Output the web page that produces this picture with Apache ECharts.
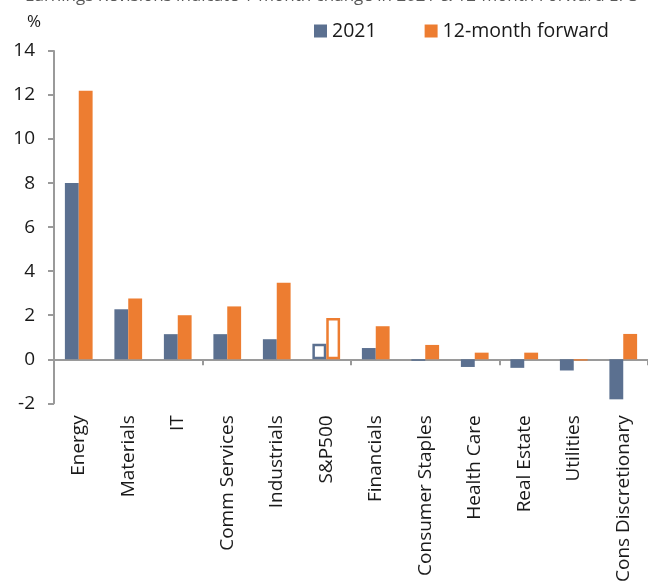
<!DOCTYPE html>
<html>
<head>
<meta charset="utf-8">
<script src="https://cdn.jsdelivr.net/npm/echarts@6/dist/echarts.min.js"></script>
<style>
  html, body { margin: 0; padding: 0; background: #fff; }
  #chart { width: 648px; height: 585px; }
</style>
</head>
<body>
<div id="chart"></div>
<script>
// Sector EPS revisions, 1-month change (%)
const sectors = ['Energy', 'Materials', 'IT', 'Comm Services', 'Industrials', 'S&P500',
  'Financials', 'Consumer Staples', 'Health Care', 'Real Estate', 'Utilities', 'Cons Discretionary'];
const rev2021 = [8.0, 2.27, 1.14, 1.14, 0.91, 0.7, 0.51, -0.07, -0.35, -0.39, -0.51, -1.82];
const revFwd12m = [12.2, 2.76, 2.0, 2.4, 3.48, 1.87, 1.5, 0.65, 0.3, 0.3, -0.06, 1.15];
const yTicks = { min: -2, max: 14, step: 2 };
const highlightIndex = sectors.indexOf('S&P500');

const BLUE = '#5b7090';
const ORANGE = '#ed7d31';
const FONT = 'Open Sans';
const TXT = '#1a1a1a';
const AXIS = '#9a9a9a';

// The S&P500 pair is drawn hollow so the aggregate stands apart from sectors
function seriesData(values, color) {
  return values.map((v, i) => i === highlightIndex
    ? { value: v, itemStyle: { color: '#ffffff', borderColor: color, borderWidth: 2.5 } }
    : v);
}

const chart = echarts.init(document.getElementById('chart'), null, { renderer: 'canvas' });
chart.setOption({
  animation: false,
  textStyle: { fontFamily: FONT },
  graphic: [
    { type: 'text', left: 25, top: -12,
      style: { text: 'Earnings Revisions indicate 1-month change in 2021 & 12-month Forward EPS',
               font: '17px "Open Sans"', fill: '#595959' } },
    { type: 'text', left: 27, top: 14,
      style: { text: '%', font: '17px "Open Sans"', fill: TXT } }
  ],
  legend: {
    left: 309, top: 16,
    itemWidth: 13, itemHeight: 13, itemGap: 48,
    icon: 'rect',
    textStyle: { fontFamily: FONT, fontSize: 19.5, color: TXT },
    data: ['2021', '12-month forward']
  },
  grid: { left: 54, top: 51, width: 596, height: 356, containLabel: false },
  xAxis: [
    {
      // labels sit below the plot area
      type: 'category', data: sectors, position: 'bottom',
      axisLine: { show: false, onZero: false }, axisTick: { show: false },
      axisLabel: { rotate: 90, margin: 12, fontFamily: FONT, fontSize: 19, color: TXT, interval: 0 }
    },
    {
      // baseline and category ticks at zero
      type: 'category', data: sectors, position: 'bottom',
      axisLine: { show: true, onZero: true, lineStyle: { color: AXIS, width: 2 } },
      axisTick: { show: true, length: 6, lineStyle: { color: AXIS, width: 2 } },
      axisLabel: { show: false }
    }
  ],
  yAxis: {
    type: 'value', min: yTicks.min, max: yTicks.max, interval: yTicks.step,
    axisLine: { show: true, lineStyle: { color: AXIS, width: 2 } },
    axisTick: { show: true, length: 6, lineStyle: { color: AXIS, width: 2 } },
    splitLine: { show: false },
    axisLabel: { margin: 19, fontFamily: FONT, fontSize: 19, color: TXT }
  },
  series: [
    { name: '2021', type: 'bar', xAxisIndex: 0, data: seriesData(rev2021, BLUE),
      itemStyle: { color: BLUE }, barGap: '0%', barCategoryGap: '44%' },
    { name: '12-month forward', type: 'bar', xAxisIndex: 0, data: seriesData(revFwd12m, ORANGE),
      itemStyle: { color: ORANGE }, barGap: '0%', barCategoryGap: '44%' }
  ]
});
</script>
</body>
</html>
